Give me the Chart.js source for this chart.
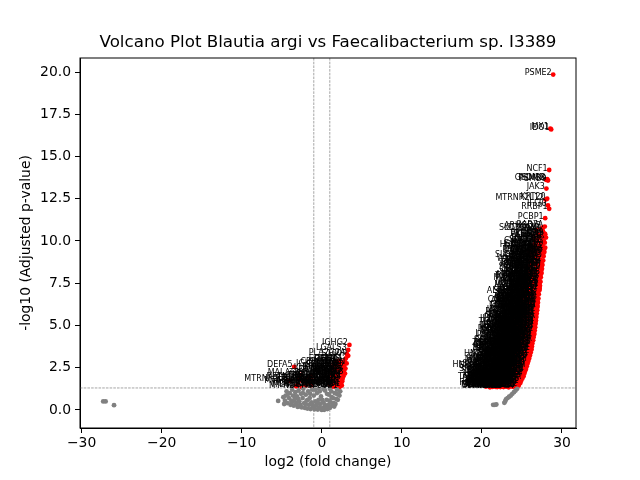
<!DOCTYPE html>
<html>
<head>
<meta charset="utf-8">
<script src="https://cdn.jsdelivr.net/npm/chart.js@4.4.0/dist/chart.umd.min.js"></script>
<style>
  html, body { margin: 0; padding: 0; background: #fff; }
  #volcano { display: block; }
</style>
</head>
<body>
<canvas id="volcano" width="640" height="480"></canvas>
<script>
// volcano plot data: [gene, log2 fold change, -log10 adj p]

const plotTitle = 'Volcano Plot Blautia argi vs Faecalibacterium sp. I3389';
const xTicks = [-30, -20, -10, 0, 10, 20, 30];
const yTicks = [0, 2.5, 5, 7.5, 10, 12.5, 15, 17.5, 20];
const fcCut = 1;
const pCut = 1.3;

// the readable names at the top of the right arm
const topGenes = [
    ["PSME2", 28.9, 19.85], ["MX1", 28.55, 16.65], ["IDO1", 28.65, 16.6],
    ["NCF1", 28.4, 14.2], ["GSDMB", 28.0, 13.62], ["PSMB9", 28.25, 13.58],
    ["PSMB8", 28.15, 13.66], ["JAK3", 28.05, 13.1], ["MTRNR2L12", 27.95, 12.45],
    ["KRT20", 28.15, 12.5], ["IFI30", 28.25, 12.1], ["RRBP1", 28.4, 11.9],
    ["PCBP1", 27.9, 11.35], ["ARHGDIB", 27.6, 10.8], ["RAB7A", 27.85, 10.85],
    ["CD74", 27.7, 10.35], ["CD9", 27.9, 10.4]
];

// outer (red) edge of the right arm
const rightEdge = [
    ["TMEM37", 24.4, 1.33], ["SLC26A2", 24.6, 1.45], ["CA12", 24.8, 1.6], ["CDHR5", 24.9, 1.72],
    ["MEP1A", 25.05, 1.86], ["SLC6A19", 25.2, 2.0], ["ACE2", 25.3, 2.15], ["TM4SF20", 25.4, 2.3],
    ["XPNPEP2", 25.5, 2.42], ["SI", 25.6, 2.58], ["LCT", 25.7, 2.75], ["ALPI", 25.8, 2.9],
    ["ANPEP", 25.9, 3.05], ["DPP4", 26.0, 3.22], ["MME", 26.1, 3.4], ["CA1", 26.2, 3.58],
    ["CA2", 26.25, 3.75], ["AQP8", 26.3, 3.93], ["GUCA2A", 26.4, 4.12], ["GUCA2B", 26.45, 4.3],
    ["CEACAM7", 26.55, 4.5], ["MS4A12", 26.6, 4.7], ["CLCA4", 26.65, 4.9], ["SELENBP1", 26.7, 5.1],
    ["HMGCS2", 26.75, 5.3], ["SLC51A", 26.8, 5.5], ["FABP1", 26.85, 5.7], ["FABP2", 26.9, 5.9],
    ["APOA1", 26.95, 6.1], ["APOA4", 27.0, 6.35], ["APOB", 27.05, 6.6], ["RBP2", 27.1, 6.85],
    ["CDH17", 27.2, 7.1], ["VIL1", 27.25, 7.35], ["LGALS4", 27.3, 7.6], ["KRT8", 27.35, 7.85],
    ["KRT18", 27.45, 8.1], ["KRT19", 27.5, 8.35], ["EPCAM", 27.55, 8.6], ["CDX2", 27.65, 8.85],
    ["CEACAM5", 27.7, 9.1], ["CEACAM6", 27.8, 9.35], ["AGR2", 27.9, 9.6], ["TFF3", 27.85, 9.9],
    ["PIGR", 28.0, 10.2]
];

// the crowded inside of the right arm
const rightBody = [
    ["MUC2", 20.5, 1.38], ["FCGBP", 20.7, 1.52], ["CLCA1", 20.9, 1.41], ["ZG16", 21.1, 1.66],
    ["SPINK4", 21.3, 1.36], ["ITLN1", 21.4, 1.81], ["REG4", 21.6, 1.49], ["OLFM4", 21.8, 1.93],
    ["LCN2", 21.9, 1.58], ["DMBT1", 22.1, 1.39], ["REG1A", 22.2, 1.74], ["C1S", 22.4, 1.47],
    ["C1R", 22.6, 1.88], ["SERPING1", 22.7, 1.35], ["APOL1", 22.9, 1.63], ["APOL6", 23.1, 1.97],
    ["TRIM22", 23.2, 1.44], ["SP110", 23.4, 1.79], ["LAP3", 23.6, 1.56], ["UBE2L6", 23.8, 1.91],
    ["USP18", 23.9, 1.37], ["CMPK2", 24.1, 1.68], ["RSAD2", 24.3, 1.84], ["XAF1", 24.4, 1.5],

    ["HERC6", 21.3, 2.05], ["SAMD9L", 21.5, 2.31], ["EPSTI1", 21.7, 2.12], ["IFIH1", 21.9, 2.58],
    ["DDX58", 22.0, 2.2], ["PARP14", 22.2, 2.77], ["NLRC5", 22.4, 2.03], ["CIITA", 22.5, 2.46],
    ["SOCS1", 22.7, 2.91], ["WARS1", 22.9, 2.15], ["CXCL11", 23.0, 2.64], ["CXCL10", 23.2, 2.36],
    ["CXCL9", 23.4, 2.85], ["BST2", 23.5, 2.08], ["IFITM3", 23.7, 2.52], ["IFITM1", 23.9, 2.97],
    ["IFI27", 24.0, 2.27], ["IFI6", 24.2, 2.71], ["MX2", 24.4, 2.11], ["OAS2", 24.6, 2.49],
    ["OAS1", 24.8, 2.88], ["ISG15", 24.9, 2.18], ["IFIT3", 25.1, 2.62], ["IFIT1", 25.3, 2.8],

    ["GBP4", 22.3, 3.08], ["GBP2", 22.5, 3.42], ["GBP1", 22.7, 3.19], ["STAT1", 22.9, 3.71],
    ["TAP2", 23.0, 3.3], ["PSMB10", 23.2, 3.88], ["PSME1", 23.4, 3.12], ["HLA-DRA", 23.5, 3.55],
    ["HLA-E", 23.7, 3.97], ["HLA-C", 23.9, 3.26], ["HLA-B", 24.0, 3.64], ["HLA-A", 24.2, 3.04],
    ["B2M", 24.4, 3.48], ["FTH1", 24.5, 3.82], ["FTL", 24.7, 3.17], ["UBC", 24.9, 3.6],
    ["UBB", 25.0, 3.93], ["CALM2", 25.2, 3.35], ["YWHAZ", 25.4, 3.74], ["PPIA", 25.6, 3.1],
    ["TUBB", 25.7, 3.52], ["TUBA1B", 25.9, 3.86],

    ["VIM", 23.0, 4.1], ["LGALS1", 23.2, 4.43], ["ANXA1", 23.4, 4.21], ["ANXA2", 23.6, 4.78],
    ["S100A11", 23.7, 4.05], ["TAGLN2", 23.9, 4.6], ["MYL6", 24.1, 4.32], ["CFL1", 24.2, 4.92],
    ["PFN1", 24.4, 4.14], ["TPI1", 24.6, 4.55], ["PGK1", 24.7, 4.85], ["ALDOA", 24.9, 4.27],
    ["LDHA", 25.1, 4.68], ["ENO1", 25.2, 4.03], ["PKM", 25.4, 4.47], ["HSP90AB1", 25.6, 4.96],
    ["HSPA8", 25.7, 4.2], ["RPS27A", 25.9, 4.63], ["RPLP0", 26.1, 4.38], ["EEF1A1", 26.2, 4.83],

    ["TMSB4X", 23.9, 5.12], ["GAPDH", 24.1, 5.45], ["ACTB", 24.3, 5.08], ["ACTG1", 24.4, 5.76],
    ["MYH9", 24.6, 5.3], ["FLNA", 24.8, 5.95], ["TLN1", 24.9, 5.2], ["CAPN2", 25.1, 5.62],
    ["CTSB", 25.3, 5.04], ["CTSD", 25.4, 5.85], ["CTSS", 25.6, 5.38], ["LYZ", 25.8, 5.7],
    ["PLIN2", 25.9, 5.15], ["SQSTM1", 26.1, 5.52], ["NAMPT", 26.3, 5.9], ["SOD2", 26.4, 5.27],
    ["TXN", 26.6, 5.66],

    ["PRDX1", 24.6, 6.08], ["GPX2", 24.8, 6.42], ["GSTP1", 25.0, 6.2], ["NQO1", 25.1, 6.77],
    ["AKR1C3", 25.3, 6.33], ["ALDH1A1", 25.5, 6.94], ["CYP2C18", 25.6, 6.12], ["UGT1A1", 25.8, 6.58],
    ["ABCB1", 26.0, 6.85], ["SLC9A3", 26.1, 6.25], ["NHERF1", 26.3, 6.68], ["EZR", 26.5, 6.02],
    ["MYO1A", 26.6, 6.47], ["PLS1", 26.8, 6.9], ["ESPN", 26.9, 6.2],

    ["CDHR2", 25.2, 7.06], ["MYO7B", 25.4, 7.48], ["USH1C", 25.6, 7.2], ["TSPAN8", 25.7, 7.86],
    ["CLDN3", 25.9, 7.35], ["CLDN4", 26.1, 7.7], ["CLDN7", 26.2, 7.1], ["OCLN", 26.4, 7.55],
    ["TJP1", 26.6, 7.92], ["CDH1", 26.7, 7.28], ["CTNNB1", 26.9, 7.64], ["ELF3", 27.1, 7.4],

    ["KLF5", 25.6, 8.12], ["HNF4A", 25.8, 8.5], ["SATB2", 26.0, 8.28], ["LGR5", 26.2, 8.83],
    ["ASCL2", 26.3, 8.05], ["SOX9", 26.5, 8.64], ["MKI67", 26.7, 8.38], ["TOP2A", 26.9, 8.92],
    ["PCNA", 27.0, 8.2], ["MCM2", 27.2, 8.56], ["CCND1", 27.4, 8.76],

    ["MYC", 26.0, 9.15], ["JUN", 26.2, 9.5], ["FOS", 26.4, 9.3], ["EGR1", 26.6, 9.82],
    ["ATF3", 26.8, 9.08], ["IER2", 27.0, 9.62], ["DUSP1", 27.1, 9.4], ["ZFP36", 27.3, 9.9],
    ["KLF6", 27.5, 9.22], ["NFKBIA", 27.6, 9.7],

    ["BUB3", 26.6, 10.1], ["BLCAP", 27.0, 10.4], ["CD38", 27.3, 10.25], ["CDX1", 27.6, 10.6],
    ["CD44", 27.8, 10.45]
];

// second layer of the right arm, it is solid black in the picture
const rightCrowd = [
    ["RPL3", 20.6, 1.62], ["RPL4", 20.8, 1.85], ["RPL5", 21.0, 1.34], ["RPL6", 21.15, 1.55],
    ["RPL7", 21.25, 1.95], ["RPL7A", 21.45, 1.44], ["RPL8", 21.55, 1.7], ["RPL9", 21.7, 1.37],
    ["RPL10", 21.85, 1.77], ["RPL10A", 21.95, 1.52], ["RPL11", 22.05, 1.99], ["RPL12", 22.15, 1.61],
    ["RPL13", 22.3, 1.35], ["RPL13A", 22.35, 1.83], ["RPL14", 22.5, 1.56], ["RPL15", 22.55, 1.42],
    ["RPL18", 22.65, 1.72], ["RPL18A", 22.8, 1.95], ["RPL19", 22.85, 1.48], ["RPL21", 23.0, 1.38],
    ["RPL22", 23.05, 1.8], ["RPL23", 23.15, 1.6], ["RPL23A", 23.3, 1.9], ["RPL24", 23.35, 1.34],
    ["RPL26", 23.5, 1.66], ["RPL27", 23.55, 1.47], ["RPL27A", 23.7, 1.83], ["RPL28", 23.75, 1.4],
    ["RPL29", 23.85, 1.62], ["RPL30", 24.0, 1.76], ["RPL31", 24.05, 1.42], ["RPL32", 24.15, 1.95],
    ["RPL34", 24.25, 1.55], ["RPL35", 24.35, 1.36], ["RPL35A", 24.5, 1.66], ["RPL36", 24.55, 1.88],
    ["RPL37", 24.7, 1.78], ["RPL37A", 24.35, 1.97], ["RPL38", 20.9, 1.75], ["RPL39", 21.35, 1.66],

    ["RPS2", 21.2, 2.18], ["RPS3", 21.4, 2.02], ["RPS3A", 21.55, 2.45], ["RPS4X", 21.6, 2.22],
    ["RPS5", 21.8, 2.7], ["RPS6", 21.85, 2.06], ["RPS7", 22.05, 2.38], ["RPS8", 22.1, 2.86],
    ["RPS9", 22.3, 2.25], ["RPS10", 22.35, 2.6], ["RPS11", 22.55, 2.1], ["RPS12", 22.6, 2.96],
    ["RPS13", 22.75, 2.4], ["RPS14", 22.85, 2.72], ["RPS15", 23.0, 2.05], ["RPS15A", 23.1, 2.5],
    ["RPS16", 23.25, 2.83], ["RPS17", 23.3, 2.28], ["RPS18", 23.45, 2.62], ["RPS19", 23.6, 2.15],
    ["RPS20", 23.65, 2.94], ["RPS21", 23.8, 2.4], ["RPS23", 23.85, 2.77], ["RPS24", 24.05, 2.03],
    ["RPS25", 24.1, 2.55], ["RPS26", 24.25, 2.88], ["RPS27", 24.35, 2.33], ["RPS28", 24.5, 2.66],
    ["EEF1B2", 24.55, 2.1], ["EEF1D", 24.7, 2.98], ["EEF2", 24.75, 2.38], ["EIF1", 24.9, 2.75],
    ["EIF3E", 25.0, 2.28], ["EIF4A1", 25.1, 2.95], ["EIF4G2", 25.25, 2.5], ["PABPC1", 25.35, 2.35],
    ["NACA", 25.45, 2.86], ["BTF3", 25.55, 2.68], ["HNRNPA1", 21.3, 2.55], ["HNRNPK", 22.45, 2.9],

    ["HNRNPC", 22.2, 3.25], ["SRSF3", 22.4, 3.6], ["SNRPD2", 22.55, 3.05], ["NPM1", 22.6, 3.84],
    ["NCL", 22.8, 3.38], ["PTMA", 22.95, 3.15], ["HMGB1", 23.05, 3.62], ["H3F3B", 23.2, 3.02],
    ["ATP5F1A", 23.3, 3.45], ["ATP5F1B", 23.45, 3.8], ["ATP5MC3", 23.55, 3.22], ["COX4I1", 23.7, 3.57],
    ["COX6C", 23.8, 3.04], ["COX7C", 23.95, 3.92], ["NDUFA4", 24.05, 3.36], ["NDUFB9", 24.15, 3.7],
    ["UQCRH", 24.3, 3.18], ["CYCS", 24.35, 3.95], ["SDHB", 24.5, 3.5], ["CS", 24.6, 3.08],
    ["MDH2", 24.75, 3.76], ["IDH2", 24.8, 3.32], ["GOT2", 24.95, 3.14], ["PHB", 25.05, 3.68],
    ["PHB2", 25.15, 3.44], ["VDAC1", 25.3, 3.9], ["SLC25A5", 25.35, 3.22], ["TOMM20", 25.5, 3.62],
    ["PSMA1", 25.6, 3.85], ["PSMA2", 25.75, 3.4], ["PSMA3", 25.85, 3.7], ["PSMA4", 26.0, 3.5],
    ["PSMA5", 26.05, 3.95], ["PSMA6", 22.7, 3.97],

    ["PSMA7", 22.95, 4.32], ["PSMB1", 23.1, 4.7], ["PSMB2", 23.3, 4.02], ["PSMB3", 23.35, 4.55],
    ["PSMB4", 23.5, 4.9], ["PSMB5", 23.6, 4.3], ["PSMB6", 23.8, 4.12], ["PSMB7", 23.85, 4.7],
    ["PSMC1", 24.0, 4.45], ["PSMC2", 24.15, 4.98], ["PSMD1", 24.3, 4.24], ["PSMD2", 24.35, 4.62],
    ["HSPD1", 24.5, 4.08], ["HSPE1", 24.55, 4.78], ["HSPA5", 24.8, 4.4], ["CCT2", 24.85, 4.95],
    ["CCT3", 25.0, 4.15], ["CCT5", 25.05, 4.56], ["CALR", 25.25, 4.82], ["CANX", 25.3, 4.3],
    ["PDIA3", 25.5, 4.6], ["PDIA4", 25.55, 4.08], ["P4HB", 25.8, 4.9], ["PPIB", 25.85, 4.35],
    ["SPINT2", 26.0, 4.72], ["CST3", 26.05, 4.12], ["LGALS3BP", 26.25, 4.55], ["TSPO", 26.35, 4.95],
    ["GPX1", 26.45, 4.4], ["PRDX2", 23.2, 4.85],

    ["PRDX3", 23.8, 5.35], ["PRDX5", 24.0, 5.7], ["PRDX6", 24.2, 5.25], ["SOD1", 24.25, 5.95],
    ["CAT", 24.45, 5.05], ["MGST1", 24.5, 5.6], ["GSTA1", 24.7, 5.4], ["GSTA4", 24.75, 5.82],
    ["ADH1C", 24.95, 5.1], ["ALDH2", 25.0, 5.5], ["CES2", 25.2, 5.92], ["CES1", 25.25, 5.3],
    ["UGP2", 25.45, 5.65], ["PCK1", 25.5, 5.1], ["G6PC1", 25.7, 5.88], ["SLC2A2", 25.75, 5.45],
    ["SLC5A1", 25.95, 5.25], ["MTTP", 26.0, 5.78], ["APOC3", 26.2, 5.1], ["APOH", 26.25, 5.6],
    ["TTR", 26.45, 5.42], ["RBP4", 26.5, 5.95], ["AMN", 26.65, 5.2], ["CUBN", 26.7, 5.75],
    ["CD3E", 24.1, 5.02], ["CD8A", 23.95, 5.55],

    ["CD4", 24.5, 6.3], ["CD2", 24.65, 6.75], ["CD52", 24.85, 6.05], ["PTPRC", 24.95, 6.55],
    ["LCP1", 25.15, 6.9], ["CORO1A", 25.2, 6.4], ["RAC2", 25.4, 6.15], ["LSP1", 25.45, 6.65],
    ["HCLS1", 25.65, 6.95], ["CD69", 25.7, 6.35], ["CD63", 25.9, 6.1], ["CD68", 25.95, 6.7],
    ["CD14", 26.15, 6.5], ["FCGR3A", 26.2, 6.95], ["TYROBP", 26.4, 6.3], ["FCER1G", 26.45, 6.8],
    ["AIF1", 26.65, 6.12], ["LST1", 26.7, 6.6], ["SPI1", 26.85, 6.42], ["CSF1R", 26.95, 6.88],
    ["C1QA", 24.7, 6.45], ["C1QB", 25.05, 6.25],

    ["C1QC", 25.1, 7.3], ["MS4A1", 25.3, 7.75], ["CD19", 25.45, 7.15], ["CD22", 25.55, 7.6],
    ["CXCR4", 25.75, 7.05], ["MAPK1", 25.85, 7.5], ["MAPK3", 26.0, 7.95], ["AKT1", 26.05, 7.25],
    ["PIK3CA", 26.25, 7.6], ["KRAS", 26.35, 7.85], ["NRAS", 26.5, 7.15], ["BRAF", 26.55, 7.45],
    ["EGFR", 26.75, 7.75], ["ERBB2", 26.8, 7.05], ["ERBB3", 27.0, 7.55], ["NOTCH1", 27.05, 7.9],
    ["HES1", 27.2, 7.2], ["ATOH1", 25.25, 7.92],

    ["SPDEF", 25.5, 8.4], ["WNT5A", 25.7, 8.85], ["AXIN2", 25.9, 8.1], ["TCF7L2", 26.05, 8.6],
    ["LEF1", 26.25, 8.35], ["SMAD4", 26.4, 8.95], ["TGFBI", 26.55, 8.15], ["MUC13", 26.7, 8.7],
    ["MUC12", 26.85, 8.45], ["CLDN2", 27.0, 8.95], ["TSPAN1", 27.1, 8.1], ["PHGR1", 27.3, 8.4],
    ["LYPD8", 27.45, 8.7], ["SPINK1", 26.15, 8.8],

    ["PRAP1", 25.9, 9.4], ["FABP6", 26.1, 9.75], ["SLC10A2", 26.3, 9.1], ["NR1H4", 26.45, 9.55],
    ["OSTB", 26.65, 9.35], ["CYP3A4", 26.8, 9.9], ["MAOA", 26.95, 9.2], ["HSD17B2", 27.15, 9.7],
    ["ADA", 27.3, 9.45], ["TKT", 27.5, 9.15], ["SDCBP2", 27.6, 9.95], ["GDA", 27.75, 9.5],

    ["KHK", 26.4, 10.3], ["SLC39A4", 26.8, 10.65], ["MAF", 27.1, 10.15], ["CDKN2B", 27.4, 10.7],
    ["PRR15L", 27.55, 10.3], ["IHH", 27.7, 10.05]
];

// third layer of the right arm
const rightDeep = [
    ["KRT7", 20.75, 1.47], ["KRT23", 20.95, 1.9], ["KRT80", 21.2, 1.42], ["LYPD3", 21.5, 1.6],
    ["TACSTD2", 21.75, 1.86], ["S100A2", 22.0, 1.45], ["S100A4", 22.25, 1.68], ["S100A6", 22.45, 1.97],
    ["S100A10", 22.75, 1.52], ["S100A14", 22.95, 1.84], ["S100A16", 23.25, 1.37], ["SFN", 23.45, 1.58],
    ["LAMB3", 23.65, 1.95], ["LAMC2", 23.9, 1.72], ["ITGA2", 24.2, 1.46], ["ITGA6", 24.45, 1.76],
    ["ITGB4", 24.6, 1.58], ["ITGB6", 24.8, 1.92], ["CD55", 24.3, 1.4], ["CD59", 23.1, 1.76],
    ["MMP7", 21.9, 1.35], ["MMP1", 21.3, 1.78],

    ["MMP3", 21.45, 2.42], ["MMP10", 21.65, 2.85], ["TIMP1", 21.95, 2.32], ["SERPINB5", 22.25, 2.52],
    ["SERPINA1", 22.5, 2.2], ["SERPINA3", 22.7, 2.65], ["CFB", 22.95, 2.42], ["C3", 23.15, 2.98],
    ["C4BPA", 23.4, 2.2], ["C5AR1", 23.55, 2.7], ["PLAU", 23.75, 2.06], ["PLAUR", 23.95, 2.46],
    ["CTSE", 24.15, 2.9], ["CTSH", 24.3, 2.18], ["CTSL", 24.5, 2.82], ["CTSZ", 24.65, 2.25],
    ["LGMN", 24.85, 2.55], ["GRN", 25.05, 2.08], ["NUPR1", 25.2, 2.72], ["CEBPB", 25.35, 2.55],
    ["CEBPD", 25.5, 2.98], ["KLF4", 25.6, 2.8], ["IRF7", 25.15, 2.38], ["IRF9", 21.75, 2.95],

    ["STAT2", 22.45, 3.52], ["STAT3", 22.65, 3.3], ["SP100", 22.85, 3.9], ["PML", 23.1, 3.55],
    ["TRIM21", 23.3, 3.72], ["TRIM25", 23.5, 3.35], ["ZC3HAV1", 23.65, 3.85], ["DTX3L", 23.9, 3.42],
    ["PARP9", 24.1, 3.95], ["PARP12", 24.25, 3.25], ["HELZ2", 24.45, 3.68], ["DDX60", 24.65, 3.45],
    ["RTP4", 24.85, 3.88], ["IFI44", 25.0, 3.28], ["IFI44L", 25.2, 3.7], ["IFI35", 25.4, 3.5],
    ["IFI16", 25.55, 3.25], ["OASL", 25.7, 3.95], ["TNFSF10", 25.8, 3.15], ["TNFAIP3", 25.95, 3.62],
    ["TNFAIP2", 26.1, 3.82], ["NFKB1", 26.15, 3.98],

    ["NFKB2", 23.25, 4.6], ["RELB", 23.45, 4.38], ["BIRC3", 23.7, 4.85], ["ICAM1", 23.9, 4.22],
    ["VCAM1", 24.1, 4.68], ["SELE", 24.3, 4.48], ["CCL2", 24.5, 4.92], ["CCL5", 24.7, 4.18],
    ["CCL20", 24.9, 4.72], ["CXCL1", 25.1, 4.35], ["CXCL2", 25.3, 4.95], ["CXCL3", 25.45, 4.5],
    ["CXCL5", 25.65, 4.28], ["CXCL8", 25.8, 4.7], ["IL1B", 26.0, 4.45], ["IL1RN", 26.15, 4.88],
    ["IL18", 26.3, 4.2], ["IL32", 26.4, 4.65], ["IL6", 26.5, 4.9], ["IL33", 26.25, 4.02],

    ["IL22RA1", 24.05, 5.3], ["IL10RB", 24.3, 5.55], ["IFNGR1", 24.5, 5.85], ["IFNGR2", 24.7, 5.2],
    ["JAK1", 24.9, 5.72], ["JAK2", 25.05, 5.35], ["TYK2", 25.25, 5.05], ["SOCS3", 25.4, 5.5],
    ["PTPN6", 25.6, 5.95], ["LCK", 25.8, 5.3], ["ZAP70", 25.95, 5.62], ["LAT", 26.15, 5.85],
    ["ENTPD1", 26.3, 5.35], ["NT5E", 26.5, 5.55], ["ADAM10", 26.6, 5.05], ["ADAM17", 26.7, 5.9],
    ["TSPAN3", 26.55, 5.78], ["TSPAN13", 26.65, 5.35],

    ["CD47", 24.75, 6.6], ["CD81", 24.95, 6.3], ["CD151", 25.15, 6.08], ["BSG", 25.35, 6.72],
    ["SLC3A2", 25.55, 6.45], ["SLC7A5", 25.75, 6.85], ["SLC1A5", 25.95, 6.4], ["SLC38A2", 26.1, 6.95],
    ["SLC16A1", 26.3, 6.15], ["SLC20A1", 26.45, 6.55], ["ATP1A1", 26.6, 6.85], ["ATP1B1", 26.75, 6.25],
    ["ATP2A2", 26.85, 6.65], ["CLIC1", 26.95, 6.45], ["PLEC", 27.0, 6.98], ["DSP", 26.8, 6.05],

    ["JUP", 25.35, 7.35], ["PKP3", 25.6, 7.9], ["PPL", 25.8, 7.22], ["EVPL", 26.0, 7.45],
    ["SCEL", 26.2, 7.85], ["CRB3", 26.4, 7.3], ["LLGL2", 26.6, 7.65], ["PRKCZ", 26.8, 7.45],
    ["PARD3", 26.95, 7.95], ["MARVELD2", 27.1, 7.7], ["MARVELD3", 27.2, 7.3], ["F11R", 27.25, 7.55],
    ["ESRP1", 27.3, 7.95],

    ["GRHL2", 25.75, 8.25], ["OVOL1", 26.1, 8.5], ["RAB25", 26.35, 8.7], ["ST14", 26.6, 8.25],
    ["PRSS8", 26.85, 8.65], ["HPGD", 27.1, 8.35], ["PTGS1", 27.3, 8.9], ["PTGS2", 27.4, 8.25],
    ["ALOX5AP", 27.5, 8.55],

    ["LTA4H", 26.2, 9.25], ["GGT1", 26.5, 9.65], ["GGT6", 26.9, 9.45], ["ANXA3", 27.2, 9.15],
    ["ANXA4", 27.45, 9.9], ["ANXA13", 27.7, 9.3]
];

// small significant group around zero
const middleGenes = [
    ["IGHG2", 3.45, 3.85], ["LGALS3", 3.3, 3.55], ["PLA2G2A", 3.15, 3.3], ["S100P", 3.3, 3.2],
    ["IGKC", 3.0, 3.05], ["IGHA1", 2.85, 2.9], ["JCHAIN", 3.1, 2.75], ["MZB1", 2.8, 2.6],
    ["IGLC2", 2.95, 2.45], ["TXNDC5", 2.75, 2.3], ["DERL3", 2.9, 2.15], ["FKBP11", 2.7, 2.0],
    ["SSR4", 2.6, 1.85], ["XBP1", 2.55, 1.7], ["SEC11C", 2.4, 1.55], ["PRDX4", 2.35, 1.42],
    ["HSP90B1", 2.2, 1.35], ["UNC93B1", 2.8, 2.38],
    ["CD79A", 1.3, 1.4], ["POU2AF1", 1.5, 1.6], ["CCR10", 1.6, 1.38], ["TNFRSF17", 1.8, 1.75],
    ["IGHM", 1.9, 1.5], ["IGLC3", 2.0, 2.1], ["IGKV4-1", 2.1, 1.65], ["IGHG1", 2.2, 2.35],
    ["IGHG3", 2.3, 1.9], ["IGHG4", 2.4, 2.55], ["IGLV3-1", 2.5, 2.2], ["MANF", 1.4, 1.9],
    ["SDC1", 1.7, 2.25], ["CD27", 1.2, 1.55], ["PIM2", 2.6, 2.75], ["CHPF", 1.9, 2.45],
    ["ITM2C", 2.3, 2.9], ["SELENOK", 1.6, 2.05],
    ["IGKV1-5", 1.0, 1.5], ["IGKV3-20", 1.15, 1.8], ["IGLV2-14", 1.25, 2.1], ["IGHV3-23", 1.35, 1.4],
    ["IGHV1-69", 1.45, 2.4], ["IGLV1-40", 1.55, 1.7], ["IGKV1-39", 1.65, 2.6], ["IGHV4-34", 1.75, 1.45],
    ["IGLL5", 1.85, 2.2], ["TNFRSF13B", 1.95, 1.9], ["PRDM1", 2.05, 2.7], ["IRF4", 2.15, 1.55],
    ["SPAG4", 2.25, 2.15], ["FCRL5", 2.35, 2.6], ["SLAMF7", 2.45, 1.8], ["BHLHA15", 2.55, 2.45],
    ["CCND2", 2.65, 2.15], ["HERPUD1", 2.5, 1.45], ["EDEM1", 2.1, 2.9], ["SSR3", 1.8, 2.85],
    ["SEL1L", 1.2, 2.55], ["SDF2L1", 0.95, 1.95], ["DNAJB9", 1.05, 2.3], ["CRELD2", 1.5, 2.75],
    ["ERLEC1", 1.3, 1.65],
    ["DEFA5", -3.45, 2.55], ["MALAT1", -2.6, 2.07], ["MTRNR2L8", -4.05, 1.72], ["RPL41", -2.5, 1.72],
    ["MTATP6P1", -1.9, 1.62], ["MT-ND4", -2.5, 1.35], ["DEFA6", -1.5, 1.58], ["NEAT1", -1.3, 1.45],
    ["RPS29", -3.0, 1.5], ["TPT1", -1.7, 1.9], ["EEF1G", -2.2, 1.8], ["DEFA4", -1.25, 1.75],
    ["PRSS2", -2.0, 1.45], ["RETNLB", -2.8, 1.85], ["ITLN2", -3.2, 1.4], ["LYG1", -1.4, 2.0]
];

// not significant: [log2 fold change, -log10 adj p]
const greyPoints = [
    [-27.3, 0.5], [-27.0, 0.5], [-25.95, 0.28], [-5.45, 0.53],
    [-4.8, 0.75], [-4.7, 0.35], [-4.6, 0.55], [-4.5, 0.85], [-4.4, 1.1], [-4.3, 0.4],
    [-4.2, 0.95], [-4.1, 0.7], [-4.0, 1.0], [-3.9, 0.3], [-3.8, 0.55], [-3.75, 0.45],
    [-3.7, 1.2], [-3.6, 0.85], [-3.5, 0.25], [-3.4, 0.6], [-3.35, 0.8], [-3.3, 1.05],
    [-3.2, 0.4], [-3.1, 0.8], [-3.0, 0.18], [-2.95, 0.65], [-2.9, 1.15], [-2.8, 0.5],
    [-2.7, 0.3], [-2.65, 0.2], [-2.6, 0.95], [-2.5, 0.15], [-2.4, 0.7], [-2.35, 1.0],
    [-2.3, 1.25], [-2.2, 0.4], [-2.1, 0.12], [-2.05, 0.35], [-2.0, 0.9], [-1.9, 0.55],
    [-1.8, 0.08], [-1.75, 0.6], [-1.7, 1.1], [-1.6, 0.3], [-1.5, 0.7], [-1.45, 0.95],
    [-1.4, 0.05], [-1.3, 0.45], [-1.2, 1.2], [-1.15, 0.3], [-1.1, 0.2], [-1.0, 0.85],
    [-0.9, 0.04], [-0.85, 1.2], [-0.8, 0.5], [-0.7, 0.25], [-0.6, 1.0], [-0.55, 0.4],
    [-0.5, 0.02], [-0.4, 0.6], [-0.4, 1.25], [-0.3, 0.15], [-0.25, 1.1], [-0.2, 0.35],
    [-0.1, 0.8], [0.0, 0.0], [0.05, 0.6], [0.1, 0.1], [0.2, 0.45], [0.2, 1.25],
    [0.3, 0.01], [0.35, 0.3], [0.4, 1.15], [0.5, 0.2], [0.6, 0.6], [0.65, 0.95],
    [0.7, 0.05], [0.8, 0.3], [0.9, 0.9], [0.95, 0.55], [1.0, 0.12], [1.0, 1.25],
    [1.1, 0.45], [1.2, 1.1], [1.25, 0.75], [1.3, 0.25], [1.4, 0.7], [1.5, 0.4],
    [1.55, 0.2], [1.6, 1.0], [1.7, 0.35], [1.8, 0.65], [1.85, 0.95], [1.9, 1.2],
    [2.0, 0.6], [2.1, 0.9], [2.2, 0.85], [2.3, 1.1],
    [21.4, 0.3], [21.6, 0.3], [21.8, 0.32], [22.8, 0.42], [22.9, 0.5], [23.0, 0.62],
    [23.2, 0.7], [23.4, 0.78], [23.6, 0.85], [23.8, 0.95], [24.0, 1.05], [24.2, 1.15],
    [24.4, 1.25]
];

const labelled = topGenes.concat(rightEdge, rightBody, rightCrowd, rightDeep, middleGenes);
const minus = v => String(v).replace('-', '\u2212');

// cutoff lines, gene names, frame and title
const volcanoExtras = {
    id: 'volcanoExtras',
    beforeDatasetsDraw(chart) {
        const { ctx, chartArea: a, scales: { x, y } } = chart;
        ctx.save();
        ctx.strokeStyle = 'grey';
        ctx.lineWidth = 0.7;
        ctx.setLineDash([2.6, 1.1]);
        [-fcCut, fcCut].forEach(v => {
            const px = x.getPixelForValue(v);
            ctx.beginPath();
            ctx.moveTo(px, a.top);
            ctx.lineTo(px, a.bottom);
            ctx.stroke();
        });
        const py = y.getPixelForValue(pCut);
        ctx.beginPath();
        ctx.moveTo(a.left, py);
        ctx.lineTo(a.right, py);
        ctx.stroke();
        ctx.restore();
    },
    afterDatasetsDraw(chart) {
        const { ctx, chartArea: a, scales: { x, y } } = chart;
        ctx.save();
        ctx.font = '8px "DejaVu Sans"';
        ctx.fillStyle = '#000';
        ctx.textAlign = 'right';
        ctx.textBaseline = 'alphabetic';
        labelled.forEach(g => {
            ctx.fillText(g[0], x.getPixelForValue(g[1]) - 1.5, y.getPixelForValue(g[2]) + 0.5);
        });
        ctx.strokeStyle = '#000';
        ctx.lineWidth = 1;
        ctx.strokeRect(a.left, a.top, a.right - a.left, a.bottom - a.top);

        ctx.font = '16.7px "DejaVu Sans"';
        ctx.textAlign = 'center';
        ctx.textBaseline = 'middle';
        ctx.fillText(plotTitle, (a.left + a.right) / 2, 43);
        ctx.restore();
    }
};

const tickFont = { family: 'DejaVu Sans', size: 13.9 };

new Chart(document.getElementById('volcano'), {
    type: 'scatter',
    data: {
        datasets: [{
            data: greyPoints.map(p => ({ x: p[0], y: p[1] })),
            backgroundColor: 'grey',
            borderWidth: 0,
            pointRadius: 2.4
        }, {
            data: labelled.map(g => ({ x: g[1], y: g[2] })),
            backgroundColor: 'red',
            borderWidth: 0,
            pointRadius: 2.4
        }]
    },
    options: {
        responsive: false,
        devicePixelRatio: 1,
        animation: false,
        layout: { padding: { left: 0, right: 64, top: 58, bottom: 0 } },
        scales: {
            x: {
                type: 'linear',
                min: -30.2,
                max: 31.75,
                afterFit: s => { s.height = 52; },
                afterBuildTicks: s => { s.ticks = xTicks.map(v => ({ value: v })); },
                ticks: { font: tickFont, color: '#000', padding: 2, maxRotation: 0, autoSkip: false, callback: v => minus(v) },
                grid: { drawOnChartArea: false, tickLength: 5, tickColor: '#000' },
                border: { color: '#000', width: 1 },
                title: { display: true, text: 'log2 (fold change)', font: tickFont, color: '#000', padding: { top: 0, bottom: 9.5 } }
            },
            y: {
                type: 'linear',
                min: -1.07,
                max: 20.83,
                afterFit: s => { s.width = 80; },
                afterBuildTicks: s => { s.ticks = yTicks.map(v => ({ value: v })); },
                ticks: { font: tickFont, color: '#000', padding: 4, autoSkip: false, callback: v => v.toFixed(1) },
                grid: { drawOnChartArea: false, tickLength: 5, tickColor: '#000' },
                border: { color: '#000', width: 1 },
                title: { display: true, text: '-log10 (Adjusted p-value)', font: tickFont, color: '#000', padding: { top: 18.5, bottom: 0 } }
            }
        },
        plugins: {
            legend: { display: false },
            tooltip: { enabled: false },
            title: { display: false }
        }
    },
    plugins: [volcanoExtras]
});
</script>
</body>
</html>
